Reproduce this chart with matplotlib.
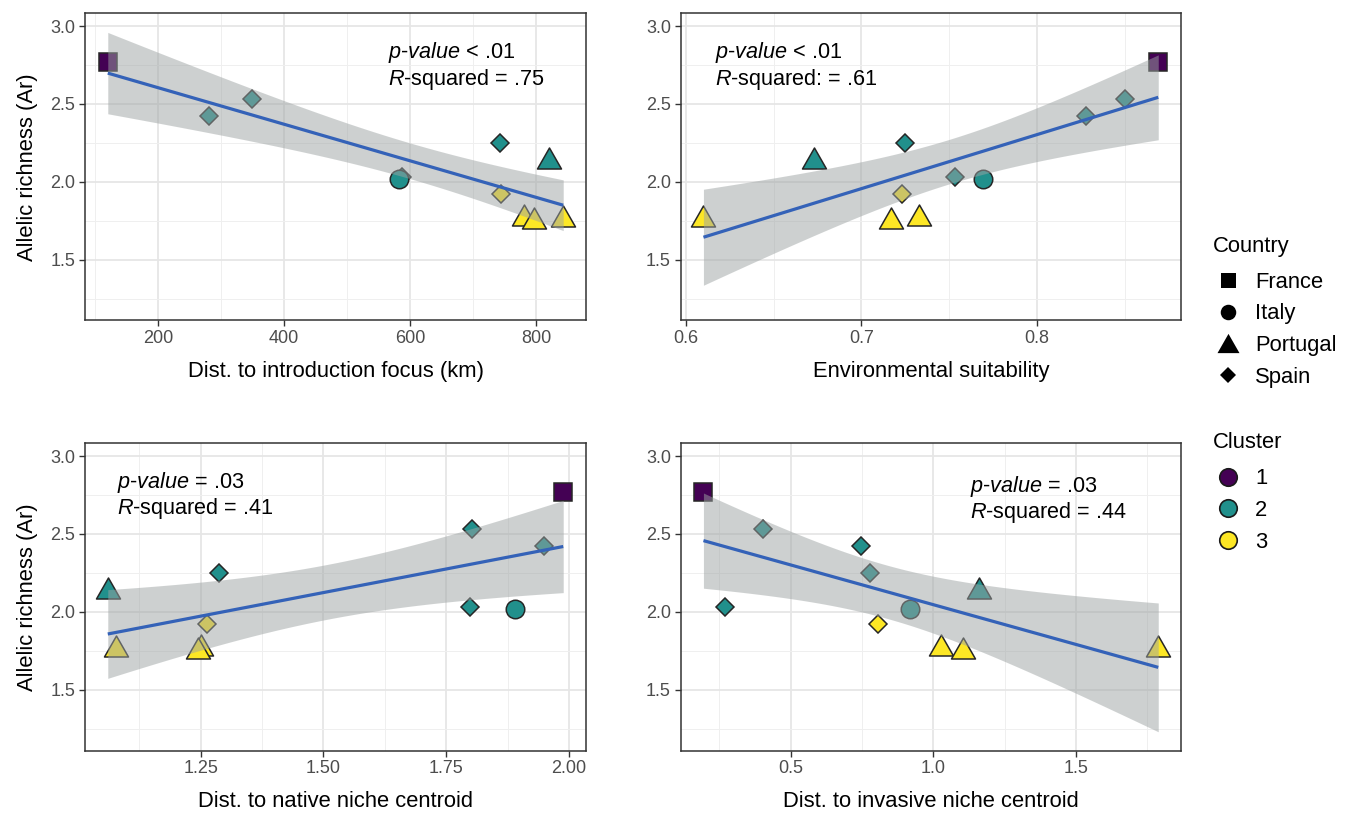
import numpy as np
import matplotlib
matplotlib.use("Agg")
import matplotlib.pyplot as plt
from matplotlib.path import Path

plt.rcParams['font.family'] = ['Liberation Sans', 'DejaVu Sans']
plt.rcParams['mathtext.fontset'] = 'custom'
plt.rcParams['mathtext.rm'] = 'Liberation Sans'
plt.rcParams['mathtext.it'] = 'Liberation Sans:italic'

# ---------------- data ----------------
populations = ["FR", "ES1", "ES2", "ES3", "ES4", "ES5", "IT", "PT1", "PT2", "PT3", "PT4"]
country = ["France", "Spain", "Spain", "Spain", "Spain", "Spain", "Italy",
           "Portugal", "Portugal", "Portugal", "Portugal"]
cluster = [1, 2, 2, 2, 2, 3, 2, 2, 3, 3, 3]
allelic_richness = [2.77, 2.53, 2.42, 2.25, 2.03, 1.92, 2.02, 2.15, 1.79, 1.77, 1.78]
dist_intro = [120, 349, 280, 743, 587, 745, 583, 821, 780, 796, 843]
env_suit = [0.869, 0.850, 0.828, 0.725, 0.753, 0.723, 0.769, 0.673, 0.733, 0.717, 0.610]
dist_native = [1.988, 1.802, 1.949, 1.288, 1.799, 1.262, 1.890, 1.061, 1.250, 1.245, 1.078]
dist_invasive = [0.194, 0.402, 0.745, 0.778, 0.268, 0.807, 0.917, 1.158, 1.025, 1.105, 1.788]

x_titles = ["Dist. to introduction focus (km)", "Environmental suitability",
            "Dist. to native niche centroid", "Dist. to invasive niche centroid"]
stat_line1 = [r"$\mathit{p\text{-}value}$ < .01", r"$\mathit{p\text{-}value}$ < .01",
              r"$\mathit{p\text{-}value}$ = .03", r"$\mathit{p\text{-}value}$ = .03"]
stat_line2 = [r"$\mathit{R}$-squared = .75", r"$\mathit{R}$-squared: = .61",
              r"$\mathit{R}$-squared = .41", r"$\mathit{R}$-squared = .44"]
countries = ["France", "Italy", "Portugal", "Spain"]
clusters = [1, 2, 3]
cluster_colors = {1: "#440154", 2: "#21908C", 3: "#FDE725"}

# ---------------- styling ----------------
W, H = 1349, 815
DPI = 100
PX = 72.0 / DPI  # points per pixel

tri = Path([(-1, -0.875), (1, -0.875), (0, 0.875), (-1, -0.875)],
           [Path.MOVETO, Path.LINETO, Path.LINETO, Path.CLOSEPOLY])
shape_marker = {"France": "s", "Italy": "o", "Portugal": tri, "Spain": "D"}
shape_size = {"France": 18 * PX, "Italy": 18.5 * PX, "Portugal": 24 * PX, "Spain": 12.8 * PX}
legend_size = {"France": 15 * PX, "Italy": 15.5 * PX, "Portugal": 22 * PX, "Spain": 11 * PX}

T975_DF9 = 2.262  # Student t quantile used for the 95% band (n - 2 = 9 df)

fig = plt.figure(figsize=(W / DPI, H / DPI), dpi=DPI)


def px_axes(left, top, right, bottom):
    return fig.add_axes([left / W, 1 - bottom / H, (right - left) / W, (bottom - top) / H])


axes = [px_axes(85, 13.3, 586, 320.5), px_axes(680.7, 13.3, 1181, 320.5),
        px_axes(85, 443.3, 586, 750.5), px_axes(680.7, 443.3, 1181, 750.5)]
xs = [dist_intro, env_suit, dist_native, dist_invasive]
major_ticks = [[200, 400, 600, 800], [0.6, 0.7, 0.8], [1.25, 1.50, 1.75, 2.00], [0.5, 1.0, 1.5]]
minor_ticks = [[100, 300, 500, 700], [0.65, 0.75, 0.85], [1.125, 1.375, 1.625, 1.875],
               [0.25, 0.75, 1.25, 1.75]]
tick_fmt = ["{:.0f}", "{:.1f}", "{:.2f}", "{:.1f}"]
text_x = [565, 0.6166, 1.0806, 1.1287]
text_y1 = [2.793, 2.793, 2.793, 2.771]
text_y2 = [2.622, 2.622, 2.628, 2.600]

y = np.array(allelic_richness)
for i, ax in enumerate(axes):
    x = np.array(xs[i], dtype=float)
    # points
    for j in range(len(x)):
        c = country[j]
        ax.plot(x[j], y[j], linestyle="none", marker=shape_marker[c],
                markersize=shape_size[c], markerfacecolor=cluster_colors[cluster[j]],
                markeredgecolor="#262626", markeredgewidth=1.1, zorder=3)
    # linear fit with 95% CI
    n = len(x)
    b1, b0 = np.polyfit(x, y, 1)
    resid = y - (b0 + b1 * x)
    s = np.sqrt(np.sum(resid ** 2) / (n - 2))
    xm = x.mean()
    sxx = np.sum((x - xm) ** 2)
    xg = np.linspace(x.min(), x.max(), 100)
    yg = b0 + b1 * xg
    se = s * np.sqrt(1.0 / n + (xg - xm) ** 2 / sxx)
    ax.fill_between(xg, yg - T975_DF9 * se, yg + T975_DF9 * se, color="#9da3a3",
                    alpha=0.5, linewidth=0, zorder=4)
    ax.plot(xg, yg, color="#3462B8", linewidth=2.3, zorder=5, solid_capstyle="butt")

    r = x.max() - x.min()
    ax.set_xlim(x.min() - 0.05 * r, x.max() + 0.05 * r)
    ax.set_ylim(1.11, 3.082)
    ax.set_xticks(major_ticks[i])
    ax.set_xticklabels([tick_fmt[i].format(v) for v in major_ticks[i]])
    ax.set_xticks(minor_ticks[i], minor=True)
    ax.set_yticks([1.5, 2.0, 2.5, 3.0])
    ax.set_yticklabels(["1.5", "2.0", "2.5", "3.0"])
    ax.set_yticks([1.25, 1.75, 2.25, 2.75], minor=True)
    ax.grid(which="major", color="#E6E6E6", linewidth=1.3)
    ax.grid(which="minor", color="#EFEFEF", linewidth=0.7)
    ax.set_axisbelow(True)
    for sp in ax.spines.values():
        sp.set_color("#333333")
        sp.set_linewidth(1.1)
    ax.tick_params(which="major", length=4, width=1.0, color="#333333",
                   labelsize=13, labelcolor="#4D4D4D", pad=3)
    ax.tick_params(which="minor", length=0)
    ax.set_xlabel(x_titles[i], fontsize=15.8, color="black", labelpad=10)
    if i in (0, 2):
        ax.set_ylabel("Allelic richness (Ar)", fontsize=15.8, color="black", labelpad=9)
    ax.text(text_x[i], text_y1[i], stat_line1[i], fontsize=15.6, va="baseline", ha="left", zorder=6)
    ax.text(text_x[i], text_y2[i], stat_line2[i], fontsize=15.6, va="baseline", ha="left", zorder=6)

# ---------------- legends ----------------
lg = fig.add_axes([0, 0, 1, 1])
lg.set_xlim(0, W)
lg.set_ylim(H, 0)
lg.axis("off")
lg.text(1213, 251.7, "Country", fontsize=15.8, va="baseline", ha="left")
for k, c in enumerate(countries):
    cy = 280 + k * 31.7
    lg.plot(1228, cy, linestyle="none", marker=shape_marker[c], markersize=legend_size[c],
            markerfacecolor="black", markeredgecolor="black", markeredgewidth=0)
    lg.text(1255, cy + 7.6, c, fontsize=15.8, va="baseline", ha="left")
lg.text(1213, 447.7, "Cluster", fontsize=15.8, va="baseline", ha="left")
for k, cl in enumerate(clusters):
    cy = 476.7 + k * 31.7
    lg.plot(1228, cy, linestyle="none", marker="o", markersize=17.5 * PX,
            markerfacecolor=cluster_colors[cl], markeredgecolor="#1a1a1a", markeredgewidth=1.2)
    lg.text(1255, cy + 7.6, str(cl), fontsize=15.8, va="baseline", ha="left")

fig.savefig("out.png", dpi=DPI, facecolor="white")
